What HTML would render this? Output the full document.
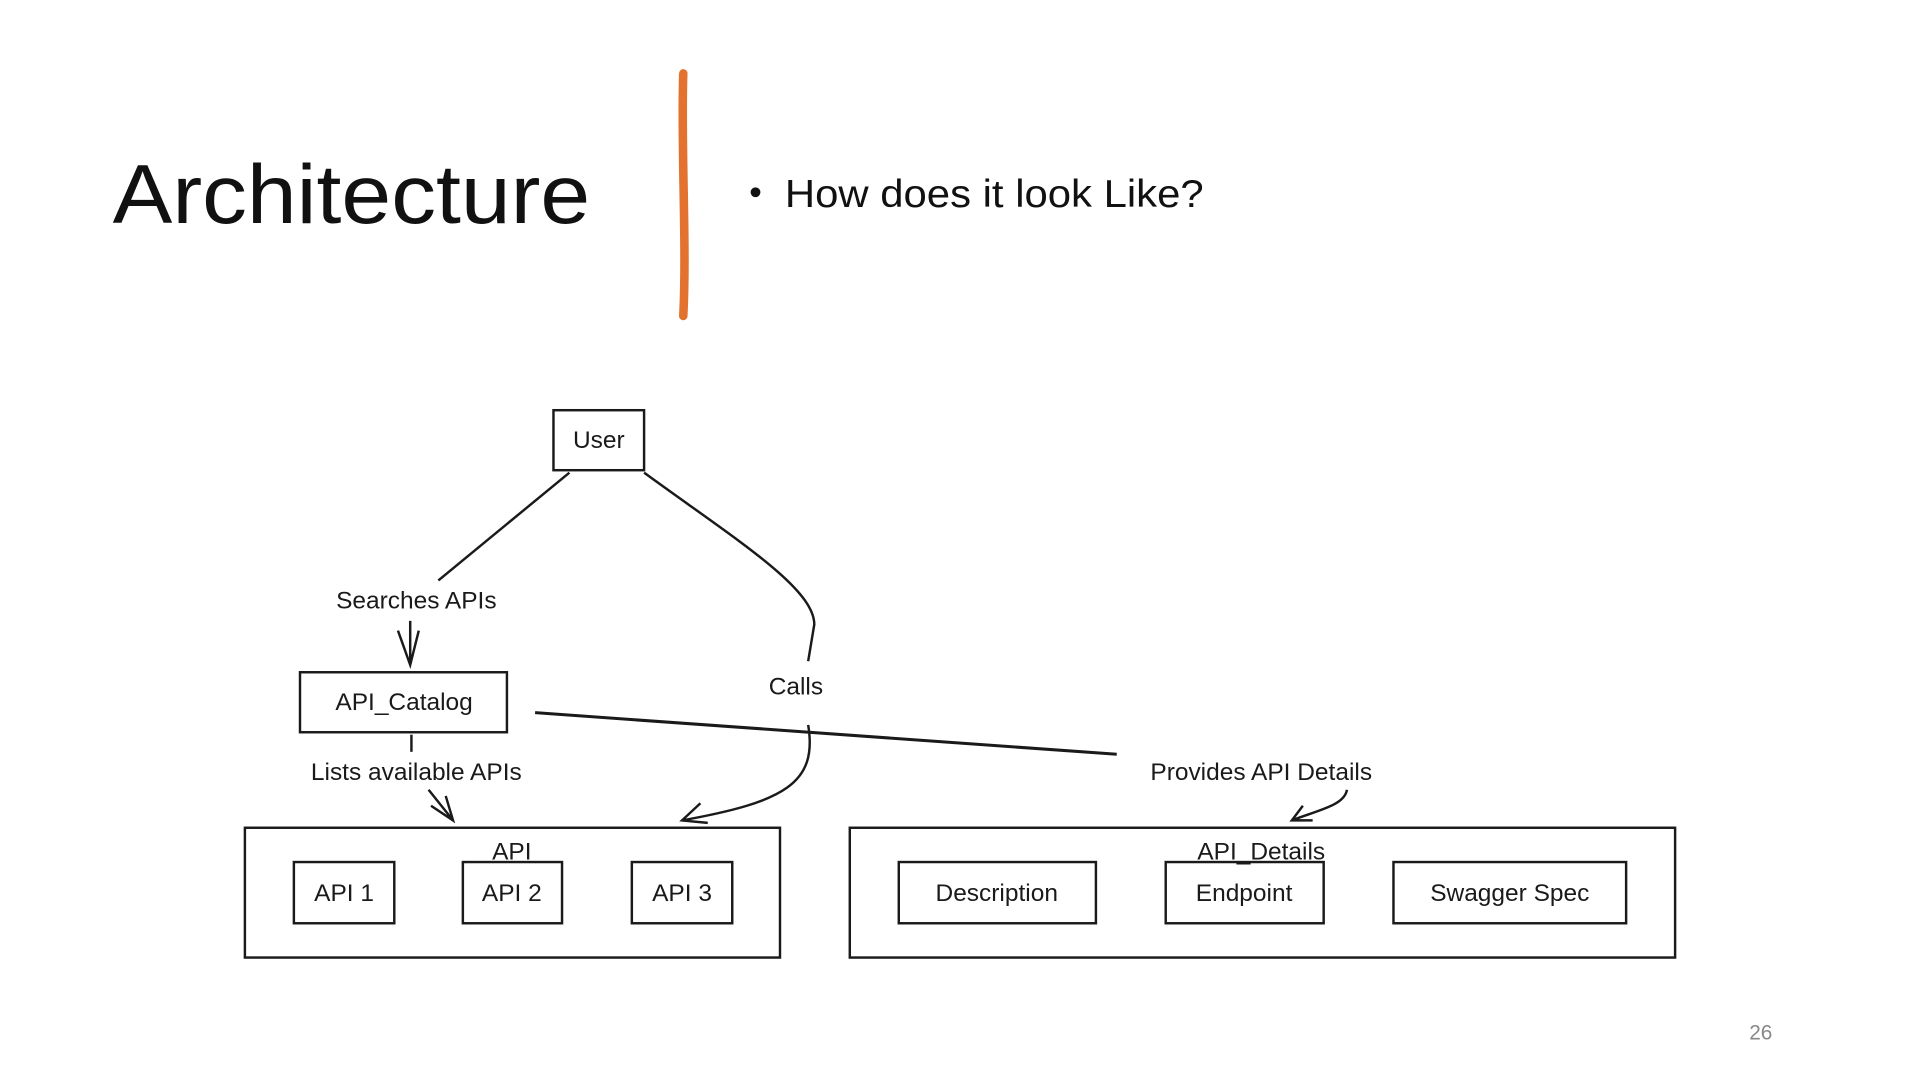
<!DOCTYPE html>
<html><head><meta charset="utf-8"><style>
html,body{margin:0;padding:0;background:#fff;}
svg{display:block;}
.h{font-family:"Liberation Sans",sans-serif;fill:#111;}
.d{font-family:"Liberation Sans",sans-serif;font-size:20px;fill:#1a1a1a;}
</style></head><body>
<svg width="1920" height="1080" viewBox="0 0 1568 882" preserveAspectRatio="none" xmlns="http://www.w3.org/2000/svg">
<rect width="1568" height="882" fill="#fff"/>
<text class="h" x="92" y="182" font-size="68" textLength="390" lengthAdjust="spacingAndGlyphs">Architecture</text>
<path d="M558,60 C556,120 561,200 558,258" stroke="#E4722F" stroke-width="7" stroke-linecap="round" fill="none"/>
<circle cx="617" cy="157" r="4" fill="#111"/>
<text class="h" x="641" y="169" font-size="32" textLength="342" lengthAdjust="spacingAndGlyphs">How does it look Like?</text>
<g fill="none" stroke="#1a1a1a" stroke-width="2">
<rect x="452" y="335" width="74" height="49"/>
<rect x="245" y="549" width="169" height="49"/>
<rect x="200" y="676" width="437" height="106"/>
<rect x="240" y="704" width="82" height="50"/>
<rect x="378" y="704" width="81" height="50"/>
<rect x="516" y="704" width="82" height="50"/>
<rect x="694" y="676" width="674" height="106"/>
<rect x="734" y="704" width="161" height="50"/>
<rect x="952" y="704" width="129" height="50"/>
<rect x="1138" y="704" width="190" height="50"/>
<path d="M465,386 L358,474"/>
<path d="M335,507 L335,543 M325,515 L335,543 L342,515"/>
<path d="M526,386 C600,440 665,480 665,510 L660,540"/>
<path d="M660,592 C668,640 640,655 557,670 M572,656 L557,670 L578,672"/>
<path d="M437,582 L912,616" stroke-width="2.5"/>
<path d="M336,600 L336,614"/>
<path d="M350,645 L370,670 M352,658 L370,670 L364,650"/>
<path d="M1100,645 C1098,658 1075,662 1055,670 M1064,658 L1055,670 L1072,670"/>
</g>
<g class="d" text-anchor="middle">
<text x="489" y="366">User</text>
<text x="330" y="580">API_Catalog</text>
<text x="340" y="497">Searches APIs</text>
<text x="650" y="567">Calls</text>
<text x="340" y="637">Lists available APIs</text>
<text x="1030" y="637">Provides API Details</text>
<text x="418" y="702">API</text>
<text x="1030" y="702">API_Details</text>
<text x="281" y="736">API 1</text>
<text x="418" y="736">API 2</text>
<text x="557" y="736">API 3</text>
<text x="814" y="736">Description</text>
<text x="1016" y="736">Endpoint</text>
<text x="1233" y="736">Swagger Spec</text>
</g>
<text x="1438" y="849" font-family="Liberation Sans,sans-serif" font-size="17" fill="#888" text-anchor="middle">26</text>
</svg>
</body></html>
